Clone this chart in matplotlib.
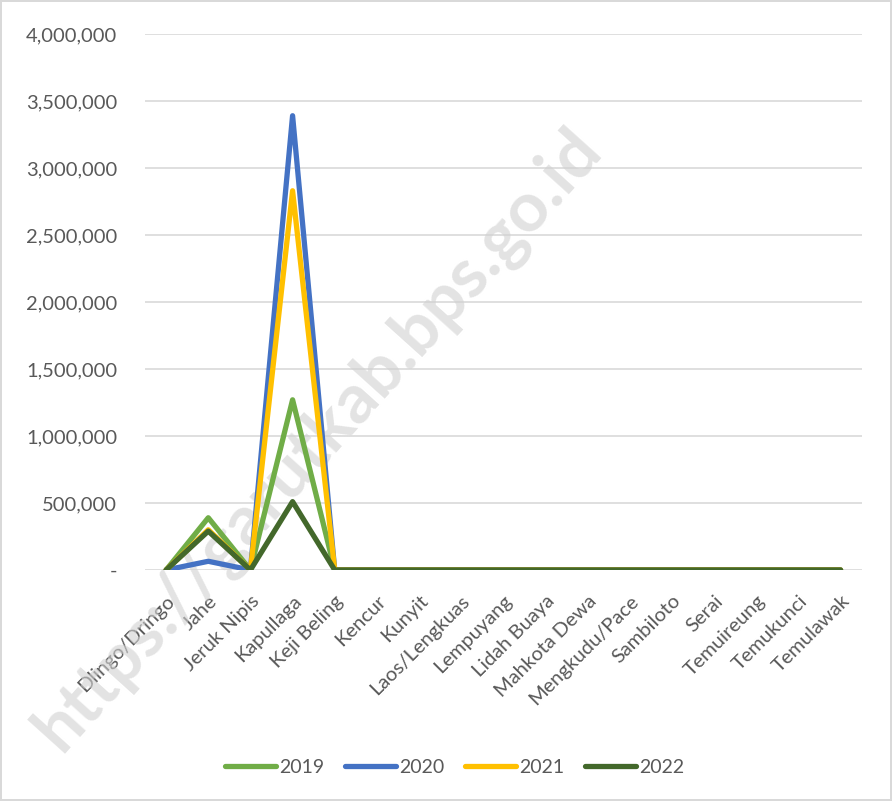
import matplotlib.pyplot as plt
from matplotlib.ticker import FuncFormatter, MultipleLocator

plt.rcParams['font.family'] = ['Lato', 'DejaVu Sans']

kategori = ['Dlingo/Dringo', 'Jahe', 'Jeruk Nipis', 'Kapullaga', 'Keji Beling',
            'Kencur', 'Kunyit', 'Laos/Lengkuas', 'Lempuyang', 'Lidah Buaya',
            'Mahkota Dewa', 'Mengkudu/Pace', 'Sambiloto', 'Serai', 'Temuireung',
            'Temukunci', 'Temulawak']
tahun = ['2019', '2020', '2021', '2022']
v2019 = [0, 390000, 0, 1270000, 0, 0, 0, 0, 0, 0, 0, 0, 0, 0, 0, 0, 0]
v2020 = [0, 65000, 0, 3390000, 0, 0, 0, 0, 0, 0, 0, 0, 0, 0, 0, 0, 0]
v2021 = [0, 300000, 0, 2830000, 0, 0, 0, 0, 0, 0, 0, 0, 0, 0, 0, 0, 0]
v2022 = [0, 290000, 0, 510000, 0, 0, 0, 0, 0, 0, 0, 0, 0, 0, 0, 0, 0]
warna = ['#70AD47', '#4472C4', '#FFC000', '#43682B']

fig = plt.figure(figsize=(8.92, 8.01), dpi=100)
fig.patch.set_edgecolor('#D9D9D9')
fig.patch.set_linewidth(1.5)
ax = fig.add_axes([0.1626, 0.2884, 0.8034, 0.6692])

x = range(len(kategori))
for nama, nilai, c in zip(tahun, [v2019, v2020, v2021, v2022], warna):
    ax.plot(x, nilai, color=c, lw=3.8, label=nama, solid_capstyle='round',
            solid_joinstyle='round', zorder=3)

ax.set_xlim(-0.5, len(kategori) - 0.5)
ax.set_ylim(0, 4000000)
ax.yaxis.set_major_locator(MultipleLocator(500000))
ax.yaxis.set_major_formatter(FuncFormatter(lambda v, p: '-' if v == 0 else f'{v:,.0f}'))
ax.grid(axis='y', color='#D9D9D9', lw=1.2)
ax.set_axisbelow(True)
for s in ax.spines.values():
    s.set_visible(False)
ax.tick_params(axis='both', length=0, colors='#595959', labelsize=14.5)
ax.tick_params(axis='y', pad=20)
ax.set_xticks(list(x))
ax.set_xticklabels(kategori, rotation=45, ha='right', rotation_mode='anchor')
ax.tick_params(axis='x', pad=16)

ax.text(-0.17, -0.36, 'https://garutkab.bps.go.id', transform=ax.transAxes,
        fontsize=50, fontweight='bold', color='#D0D0D0', alpha=0.6,
        rotation=48, ha='left', va='bottom', zorder=1, clip_on=False)

ax.legend(loc='upper center', bbox_to_anchor=(0.432, -0.32), ncol=4,
          frameon=False, fontsize=14, handlelength=2.6, columnspacing=1.1,
          labelcolor='#595959', handletextpad=0.15)

fig.savefig('out.png', dpi=100)
